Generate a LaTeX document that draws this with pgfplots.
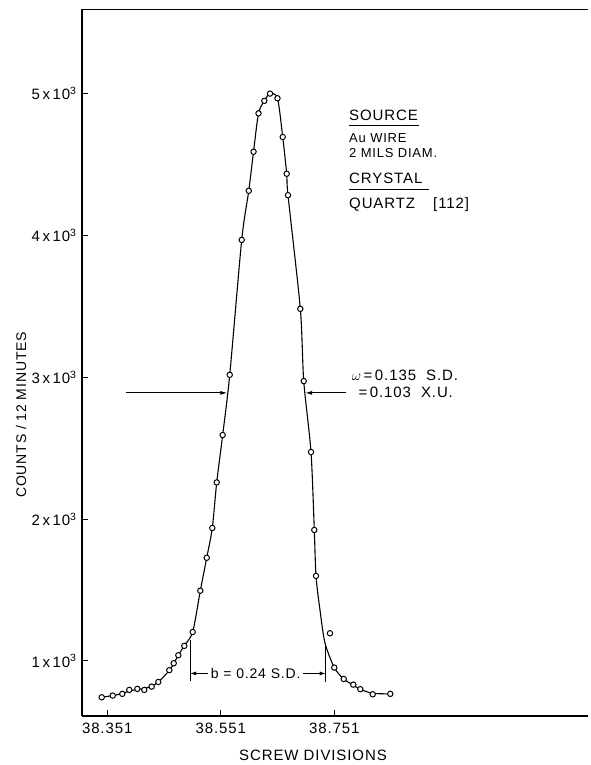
\documentclass[border=0pt]{standalone}
\usepackage{fontspec}
\setmainfont[LetterSpace=6]{Liberation Sans}
\usepackage{pgfplots}
\pgfplotsset{compat=1.18}
\usetikzlibrary{arrows.meta}

% measured counts (screw divisions, counts per 12 minutes)
\pgfplotstableread{
x       y
38.3413 744
38.3607 756
38.3776 768
38.3899 796
38.4040 803
38.4163 796
38.4293 819
38.4410 852
38.4603 935
38.4681 984
38.4762 1040
38.4867 1106
38.5015 1204
38.5149 1495
38.5262 1727
38.5360 1937
38.5438 2258
38.5543 2592
38.5667 3016
38.5878 3967
38.6002 4313
38.6086 4588
38.6174 4859
38.6276 4947
38.6376 4998
38.6508 4965
38.6600 4692
38.6670 4433
38.6693 4282
38.6910 3481
38.6970 2972
38.7098 2472
38.7156 1923
38.7186 1599
38.7432 1195
38.7508 953
38.7674 873
38.7843 833
38.7966 801
38.8184 765
38.8494 768
}\counts

% hand-drawn line profile through the data
\pgfplotstableread{
x       y
38.3413 744
38.3607 756
38.3776 770
38.3899 788
38.4040 799
38.4163 806
38.4293 822
38.4410 852
38.4603 932
38.4681 982
38.4762 1040
38.4867 1108
38.5015 1204
38.5149 1495
38.5262 1727
38.5360 1937
38.5438 2258
38.5543 2592
38.5667 3016
38.5878 3967
38.6002 4313
38.6086 4588
38.6174 4859
38.6276 4947
38.6376 4998
38.6508 4965
38.6600 4692
38.6670 4433
38.6693 4282
38.6910 3481
38.6970 2972
38.7098 2472
38.7156 1923
38.7186 1599
38.7256 1359
38.7344 1127
38.7508 953
38.7674 873
38.7843 830
38.7966 800
38.8184 772
38.8494 768
}\profile

\begin{document}
\begin{tikzpicture}
\path[use as bounding box] (-82pt,-49pt) rectangle (508pt,716pt);
\begin{axis}[
  scale only axis,
  width=506pt, height=706.7pt,
  xmin=38.3066, xmax=39.1975,
  ymin=612, ymax=5592,
  axis lines=left,
  axis line style={-, line width=1.1pt},
  clip=false,
  tick align=inside,
  major tick length=6pt,
  tick style={line width=1pt, black},
  xtick={38.351,38.551,38.751},
  xticklabels={38.351,38.551,38.751},
  ytick={1000,2000,3000,4000,5000},
  yticklabels={1\,x\,10\textsuperscript{3},2\,x\,10\textsuperscript{3},3\,x\,10\textsuperscript{3},4\,x\,10\textsuperscript{3},5\,x\,10\textsuperscript{3}},
  ticklabel style={font=\fontsize{15}{18}\selectfont},
  yticklabel style={xshift=-2pt},
  xticklabel style={yshift=-3pt},
]
\draw[line width=1.1pt] (rel axis cs:0,1) -- (rel axis cs:1,1);

\addplot[black, line width=1.1pt, smooth, tension=0.45] table {\profile};
\addplot[only marks, mark=*, mark size=2.7pt,
  mark options={fill=white, draw=black, line width=1pt}] table {\counts};

% half-width arrows
\draw[line width=1pt, -{Latex[length=7pt,width=4pt]}] (axis cs:38.3848,2889) -- (axis cs:38.5625,2889);
\draw[line width=1pt, -{Latex[length=7pt,width=4pt]}] (axis cs:38.7709,2889) -- (axis cs:38.6995,2889);

% base width marker
\draw[line width=1pt] (axis cs:38.4968,1150) -- (axis cs:38.4968,860);
\draw[line width=1pt] (axis cs:38.7357,1120) -- (axis cs:38.7357,855);
\draw[line width=1pt, -{Latex[length=6pt,width=4pt]}] (axis cs:38.5285,912) -- (axis cs:38.4968,912);
\draw[line width=1pt, -{Latex[length=6pt,width=4pt]}] (axis cs:38.6963,912) -- (axis cs:38.7357,912);
\node[font=\fontsize{14}{16}\selectfont, inner sep=0pt] at (axis cs:38.6124,912) {b = 0.24 S.D.};

% annotations
\begin{scope}[every node/.style={anchor=west, inner sep=0pt, font=\fontsize{15}{17}\selectfont}]
\node at (axis cs:38.7767,4848) {SOURCE};
\draw[line width=0.9pt] (axis cs:38.7767,4774) -- (axis cs:38.9000,4774);
\node[font=\fontsize{13}{15}\selectfont] at (axis cs:38.7767,4685) {Au WIRE};
\node[font=\fontsize{13}{15}\selectfont] at (axis cs:38.7767,4578) {2 MILS DIAM.};
\node at (axis cs:38.7767,4402) {CRYSTAL};
\draw[line width=0.9pt] (axis cs:38.7767,4319) -- (axis cs:38.9175,4319);
\node at (axis cs:38.7767,4214) {QUARTZ};
\node at (axis cs:38.9246,4214) {[112]};
\node at (axis cs:38.7815,3015) {$\omega$\,=\,0.135\ \ S.D.};
\node at (axis cs:38.7931,2896) {=\,0.103\ \ X.U.};
\end{scope}

\node[font=\fontsize{15}{18}\selectfont] at (axis cs:38.7133,337) {SCREW DIVISIONS};
\node[font=\fontsize{14}{16}\selectfont, rotate=90] at (axis cs:38.1992,2734) {COUNTS / 12 MINUTES};
\end{axis}
\end{tikzpicture}
\end{document}
